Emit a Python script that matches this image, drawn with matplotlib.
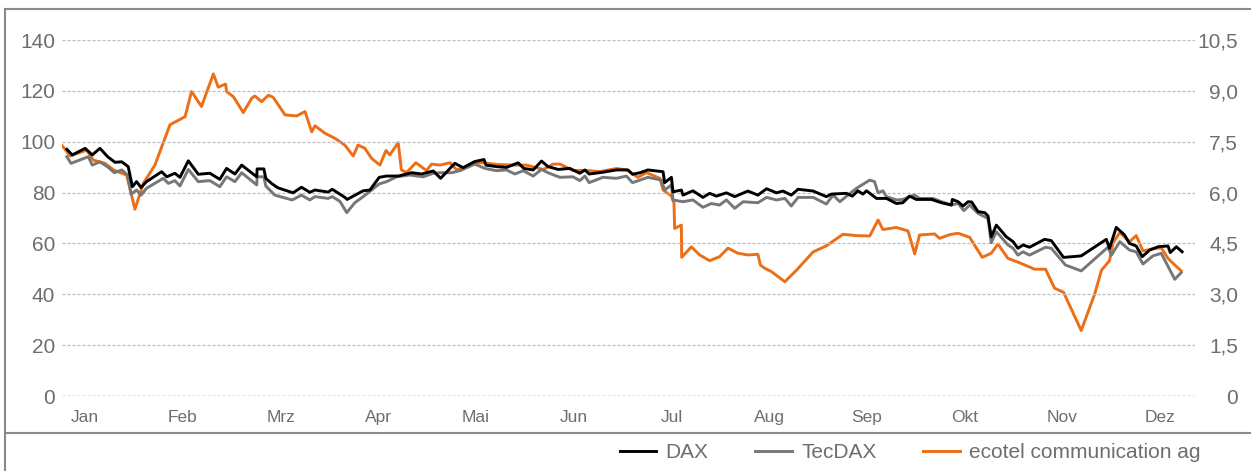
import matplotlib
matplotlib.use("Agg")
import matplotlib.pyplot as plt
from matplotlib.lines import Line2D

plt.rcParams["font.family"] = ["Liberation Sans", "DejaVu Sans"]

# Month tick labels
months = ["Jan", "Feb", "Mrz", "Apr", "Mai", "Jun", "Jul", "Aug", "Sep", "Okt", "Nov", "Dez"]

# DAX (left axis, indexed)
dax_day = [1.5, 3.2, 7.2, 9.4, 11.8, 14.2, 16.5, 18.6, 20.6, 21.9, 23.2, 24.6, 26.3, 31.0, 32.6,
           35.1, 36.7, 39.3, 42.4, 46.0, 49.1, 51.2, 53.8, 55.9, 60.6, 60.7, 62.8, 63.4, 65.2,
           67.1, 71.9, 74.5, 77.1, 78.7, 82.8, 84.1, 88.0, 88.7, 93.7, 95.8, 98.7, 101.0, 104.6,
           108.8, 111.9, 115.5, 117.8, 122.2, 124.8, 128.4, 131.3, 131.9, 135.2, 138.3, 141.9,
           143.7, 146.6, 149.2, 151.2, 154.4, 158.0, 161.1, 162.7, 164.0, 168.3, 172.5, 176.1,
           177.5, 179.8, 182.3, 187.0, 187.5, 189.6, 190.1, 192.7, 193.2, 196.3, 199.4, 201.5,
           203.6, 206.7, 209.3, 213.4, 216.5, 219.2, 222.3, 224.3, 226.9, 229.0, 233.7, 237.8,
           239.4, 244.0, 245.9, 247.6, 249.2, 250.3, 253.4, 256.5, 259.6, 261.6, 263.7, 265.8,
           270.5, 273.6, 276.7, 277.0, 278.8, 280.3, 281.9, 283.0, 285.0, 287.1, 288.1, 289.1,
           290.7, 293.8, 295.9, 297.4, 299.0, 301.0, 305.7, 307.8, 311.6, 317.1, 324.9, 325.9,
           328.0, 330.6, 332.1, 334.2, 336.1, 338.4, 341.0, 344.1, 344.8, 346.7, 348.5]
dax_val = [97.0, 94.8, 97.4, 94.8, 97.4, 94.1, 91.9, 92.1, 90.2, 82.3, 84.3, 82.0, 84.3, 88.2, 86.2,
           87.6, 86.0, 92.5, 87.2, 87.6, 85.2, 89.5, 87.3, 90.8, 86.2, 89.3, 89.3, 85.6, 83.6,
           81.9, 79.9, 82.1, 80.1, 81.0, 80.2, 81.3, 78.1, 77.3, 80.7, 81.0, 86.0, 86.5, 86.5,
           87.8, 87.3, 88.5, 85.6, 91.5, 89.8, 92.2, 93.0, 90.8, 90.2, 89.9, 91.7,
           89.5, 88.9, 92.4, 90.2, 89.1, 89.5, 87.6, 88.9, 87.3, 88.0, 88.9, 88.9,
           87.2, 87.8, 88.9, 88.2, 83.9, 86.0, 80.3, 81.0, 79.0, 80.7, 78.1, 79.7,
           78.6, 79.9, 78.4, 80.6, 79.0, 81.5, 79.9, 80.6, 79.0, 81.3, 80.6, 78.4,
           79.4, 79.7, 78.6, 80.7, 79.4, 80.7, 77.7, 77.7, 75.7, 76.0, 78.6, 77.3,
           77.3, 76.0, 75.1, 77.3, 76.4, 74.7, 76.4, 76.3, 72.5, 72.1, 70.8, 62.6,
           67.2, 62.6, 60.7, 58.1, 59.4, 58.5, 61.6, 61.1, 54.5, 55.1, 61.6, 58.1,
           66.3, 63.3, 60.0, 59.0, 54.8, 57.4, 58.7, 59.0, 56.4, 58.7, 56.7]

# TecDAX (left axis, indexed)
tec_day = [1.5, 2.8, 8.2, 9.4, 11.8, 14.4, 16.3, 18.6, 20.4, 21.5, 23.2, 24.6, 26.3, 31.5, 33.1,
           35.1, 36.7, 39.3, 42.4, 46.0, 49.1, 51.2, 53.8, 55.9, 60.6, 60.7, 62.8, 63.4, 66.2,
           71.6, 74.5, 77.1, 78.7, 82.8, 84.1, 86.5, 88.6, 91.1, 93.7, 96.3, 98.7, 101.0, 104.1,
           108.2, 112.4, 115.5, 117.6, 121.2, 123.8, 128.4, 131.6, 135.2, 138.3, 140.9, 143.5,
           146.6, 149.2, 151.2, 154.9, 159.0, 161.1, 162.7, 164.0, 168.3, 172.5, 175.6, 177.5,
           179.8, 182.3, 186.5, 187.5, 189.6, 190.1, 193.2, 196.3, 199.4, 202.0, 204.6, 206.7,
           209.3, 211.9, 216.5, 219.2, 222.3, 224.9, 226.9, 229.0, 233.7, 237.8, 239.9, 242.0,
           244.5, 247.2, 251.3, 252.8, 253.9, 255.4, 256.5, 259.6, 261.6, 263.7, 265.3, 266.8,
           271.0, 273.6, 276.7, 278.8, 280.6, 282.4, 285.0, 288.1, 289.1, 290.7, 294.3, 295.9,
           297.4, 299.0, 301.0, 306.0, 307.8, 312.2, 317.1, 325.4, 326.5, 329.1, 332.1, 334.2,
           336.3, 339.4, 342.0, 346.2, 348.2]
tec_val = [94.1, 91.5, 94.1, 90.8, 92.1, 89.9, 87.8, 88.9, 86.9, 79.4, 81.0, 79.0, 81.7, 85.6, 83.6,
           84.7, 82.6, 89.1, 84.3, 84.7, 82.3, 86.2, 84.3, 87.8, 83.0, 86.2, 86.2, 82.6, 79.0,
           77.1, 79.0, 77.1, 78.4, 77.7, 78.4, 76.5, 72.1, 76.0, 78.4, 81.0, 83.4, 84.3, 86.2,
           86.9, 86.2, 87.6, 87.8, 87.8, 88.6, 91.2, 89.5, 88.6, 88.9, 87.3, 88.6,
           86.5, 89.1, 87.8, 86.0, 86.2, 84.7, 86.5, 83.9, 86.0, 85.6, 86.5, 83.9,
           84.9, 86.0, 84.9, 81.0, 83.0, 77.1, 76.4, 77.1, 74.2, 75.7, 75.1, 77.1,
           73.8, 76.4, 76.0, 78.1, 77.1, 77.7, 74.7, 78.1, 78.1, 75.5, 79.0, 76.4,
           79.0, 81.7, 84.9, 84.3, 79.9, 80.7, 78.4, 77.1, 77.3, 78.4, 79.0, 77.7,
           77.7, 76.4, 75.1, 75.7, 72.9, 75.1, 71.8, 69.8, 60.3, 64.6, 59.4, 58.1,
           55.4, 56.7, 55.4, 58.5, 58.1, 51.5, 49.2, 58.5, 55.4, 60.7, 57.4, 56.7,
           51.9, 55.1, 56.1, 45.9, 48.5]

# ecotel communication ag (right axis, EUR)
eco_day = [0.1, 2.5, 7.7, 9.7, 13.4, 16.0, 18.6, 20.1, 22.7, 25.3, 28.9, 33.6, 38.3, 40.3, 43.4,
           47.1, 48.6, 50.9, 51.2, 53.3, 56.4, 59.0, 60.0, 62.1, 64.2, 65.7, 69.4, 73.0, 75.6,
           77.7, 78.7, 81.8, 84.9, 88.0, 90.6, 92.1, 94.2, 96.3, 98.9, 100.8, 102.0, 104.6,
           105.6, 107.2, 110.1, 113.4, 115.0, 117.6, 120.7, 122.8, 125.9, 129.0, 131.0, 135.2,
           140.4, 144.5, 149.7, 152.8, 154.9, 159.0, 163.2, 167.3, 172.5, 175.6, 179.2, 181.8,
           186.0, 187.0, 189.6, 190.4, 190.6, 192.7, 192.8, 195.8, 198.4, 201.5, 204.6, 207.2,
           210.3, 213.4, 216.5, 217.3, 218.6, 220.7, 224.9, 228.5, 233.7, 237.8, 243.0, 247.2,
           251.3, 253.9, 255.4, 259.6, 263.2, 265.3, 266.8, 270.0, 271.5, 273.0, 276.2, 278.8,
           282.4, 286.3, 289.1, 291.2, 294.3, 297.9, 302.6, 306.0, 308.8, 311.6, 317.1, 321.3,
           323.4, 325.9, 327.0, 329.1, 332.1, 334.2, 336.3, 339.4, 342.0, 344.1, 345.6, 348.2]
eco_val = [7.38, 7.08, 7.25, 6.96, 6.86, 6.67, 6.57, 6.52, 5.51, 6.27, 6.81, 8.00, 8.24, 8.98, 8.54,
           9.50, 9.11, 9.20, 8.98, 8.83, 8.36, 8.78, 8.85, 8.68, 8.87, 8.81, 8.29, 8.26, 8.39,
           7.79, 7.97, 7.75, 7.60, 7.40, 7.08, 7.40, 7.31, 7.01, 6.81, 7.24, 7.11, 7.47,
           6.67, 6.59, 6.88, 6.65, 6.84, 6.81, 6.88, 6.67, 6.77, 6.88, 6.88, 6.83,
           6.81, 6.81, 6.68, 6.84, 6.84, 6.65, 6.65, 6.62, 6.71, 6.67, 6.45, 6.59,
           6.42, 6.08, 5.90, 5.69, 4.94, 5.04, 4.09, 4.40, 4.16, 3.99, 4.11, 4.36,
           4.21, 4.16, 4.18, 3.86, 3.77, 3.67, 3.37, 3.71, 4.25, 4.43, 4.77, 4.73,
           4.72, 5.19, 4.91, 4.97, 4.87, 4.19, 4.75, 4.77, 4.78, 4.65, 4.76, 4.80,
           4.68, 4.09, 4.21, 4.48, 4.06, 3.93, 3.74, 3.74, 3.18, 3.06, 1.93, 3.01,
           3.71, 3.99, 4.52, 4.82, 4.55, 4.73, 4.28, 4.34, 4.37, 4.06, 3.92, 3.69]

left_ticks = [0, 20, 40, 60, 80, 100, 120, 140]
right_ticks = [0, 1.5, 3.0, 4.5, 6.0, 7.5, 9.0, 10.5]
right_labels = ["0", "1,5", "3,0", "4,5", "6,0", "7,5", "9,0", "10,5"]

W, H = 1251, 471
fig = plt.figure(figsize=(W / 100, H / 100), dpi=100)
ax = fig.add_axes([62 / W, 75 / H, (1195 - 62) / W, 356 / H])
ax2 = ax.twinx()

label_color = "#6e6e6e"
grid_color = "#bdbdbd"

# grid lines
for t in left_ticks:
    if t == 0:
        ax.axhline(t, color="#333333", lw=0.9, ls=(0, (2.5, 1.5)), zorder=1)
    else:
        ax.axhline(t, color=grid_color, lw=0.9, ls=(0, (2.5, 1.5)), zorder=1)

l1, = ax.plot(dax_day, dax_val, color="black", lw=2.1, zorder=4, label="DAX")
l2, = ax.plot(tec_day, tec_val, color="#777777", lw=2.1, zorder=3, label="TecDAX")
l3, = ax2.plot(eco_day, eco_val, color="#ec6e16", lw=2.1, zorder=2, label="ecotel communication ag")
ax.set_zorder(ax2.get_zorder() + 1)
ax.patch.set_visible(False)

ax.set_xlim(0, 352.5)
ax.set_ylim(0, 140)
ax2.set_ylim(0, 10.5)

ax.set_yticks(left_ticks)
ax.set_yticklabels([str(t) for t in left_ticks])
ax2.set_yticks(right_ticks)
ax2.set_yticklabels(right_labels)

ax.set_xticks([7.2 + 30.4 * i for i in range(len(months))])
ax.set_xticklabels(months)

ax.tick_params(axis="y", length=0, pad=5, labelsize=15, labelcolor=label_color)
ax.tick_params(axis="x", length=0, pad=10, labelsize=12.5, labelcolor=label_color)
ax2.tick_params(axis="y", length=0, pad=31, labelsize=15, labelcolor=label_color)
for lab in ax2.get_yticklabels():
    lab.set_horizontalalignment("right")

for a in (ax, ax2):
    for s in a.spines.values():
        s.set_visible(False)

# frame lines
frame_color = "#8a8a8a"
fig.add_artist(Line2D([5 / W, 1], [1 - 9 / H, 1 - 9 / H], color=frame_color, lw=1.5))
fig.add_artist(Line2D([5 / W, 5 / W], [0, 1 - 9 / H], color=frame_color, lw=1.5))
fig.add_artist(Line2D([5 / W, 1], [1 - 433 / H, 1 - 433 / H], color=frame_color, lw=1.5))

fig.legend(handles=[l1, l2, l3], loc="center right", bbox_to_anchor=(1211 / W, 1 - 453 / H),
           ncol=3, frameon=False, fontsize=15, borderpad=0, handlelength=1.75,
           handletextpad=0.45, columnspacing=2.25, labelcolor=label_color)

fig.savefig("out.png", dpi=100)
